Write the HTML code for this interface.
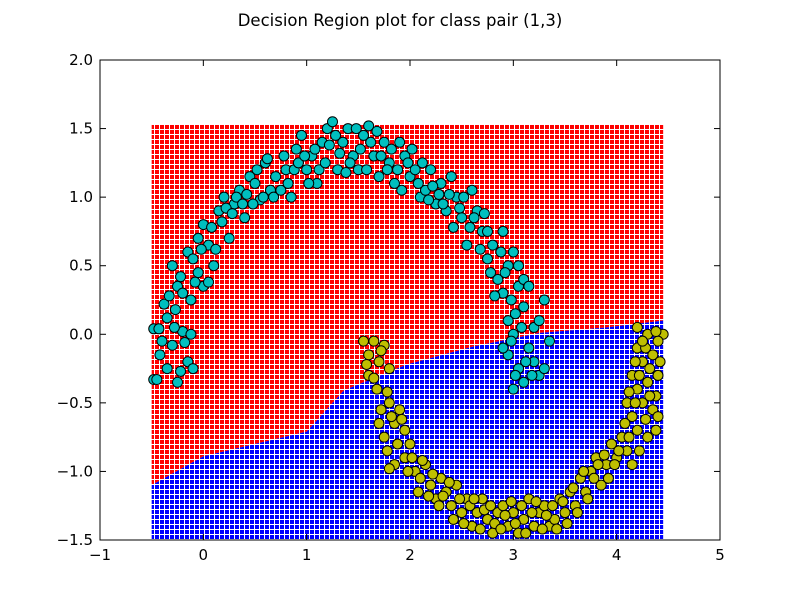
<!DOCTYPE html>
<html><head><meta charset="utf-8"><style>
html,body{margin:0;padding:0;background:#fff;}
svg{display:block;font-family:"DejaVu Sans","Liberation Sans",sans-serif;}
</style></head><body>
<svg id="chart" width="800" height="600">
<defs>
<pattern id="pr" width="5" height="5" patternUnits="userSpaceOnUse"><rect width="5" height="5" fill="#fff"/><rect width="4" height="4" fill="#ff0000"/></pattern>
<pattern id="pb" width="5" height="5" patternUnits="userSpaceOnUse"><rect width="5" height="5" fill="#fff"/><rect width="4" height="4" fill="#0000ff"/></pattern>
</defs>
<text x="400" y="26" text-anchor="middle" font-size="16.5">Decision Region plot for class pair (1,3)</text>
<g id="plot"></g>
</svg>
<script>
const xTicks=[-1,0,1,2,3,4,5];
const yTicks=[-1.5,-1.0,-0.5,0.0,0.5,1.0,1.5,2.0];
const gridX=[-0.5,4.45];
const gridY=[-1.5,1.53];
const boundaryX=[-0.5,0,0.5,1,1.36,1.97,2.61,3.26,3.91,4.45];
const boundaryY=[-1.1,-0.89,-0.8,-0.71,-0.41,-0.22,-0.09,0.01,0.05,0.1];
const cyanPts=[[-0.48,-0.33],[-0.45,-0.33],[-0.48,0.04],[-0.43,0.04],[-0.42,-0.15],[-0.38,0.22],[-0.33,0.28],[-0.35,0.12],[-0.3,-0.08],[-0.27,0.18],[-0.25,-0.35],[-0.22,-0.27],[-0.2,0.02],[-0.18,-0.06],[-0.15,-0.2],[-0.12,0.0],[-0.1,-0.25],[-0.3,0.5],[-0.25,0.35],[-0.2,0.3],[-0.15,0.6],[-0.1,0.55],[-0.05,0.45],[0.0,0.35],[0.05,0.38],[-0.05,0.7],[0.0,0.8],[0.05,0.65],[0.1,0.5],[0.15,0.9],[0.2,1.0],[0.25,0.7],[0.3,0.95],[0.35,1.05],[0.4,0.85],[0.45,1.15],[0.5,1.1],[0.55,0.98],[0.6,1.25],[0.65,1.05],[0.7,1.15],[0.8,1.2],[0.85,1.0],[0.9,1.35],[0.95,1.45],[1.0,1.2],[1.05,1.3],[1.1,1.1],[1.15,1.4],[1.2,1.5],[1.25,1.55],[1.3,1.2],[1.35,1.4],[1.4,1.5],[1.45,1.3],[1.5,1.2],[1.55,1.45],[1.6,1.52],[1.65,1.3],[1.7,1.15],[1.75,1.4],[1.8,1.25],[1.85,1.1],[1.9,1.4],[1.95,1.3],[2.0,1.15],[2.05,1.2],[2.1,1.0],[2.15,1.05],[2.2,1.2],[2.25,0.95],[2.3,1.1],[2.35,0.9],[2.4,1.15],[2.45,1.0],[2.5,0.85],[2.55,0.65],[2.6,1.05],[2.65,0.9],[2.7,0.75],[2.75,0.55],[2.8,0.65],[2.85,0.4],[2.9,0.3],[2.95,0.5],[2.9,0.75],[3.0,0.6],[3.05,0.35],[2.95,0.1],[3.0,0.0],[3.1,0.2],[2.95,-0.15],[3.05,-0.25],[3.15,-0.1],[3.2,0.05],[3.25,-0.3],[3.1,-0.35],[3.0,-0.4],[3.3,0.25],[3.35,-0.05],[2.9,-0.1],[3.2,-0.2],
[-0.4,-0.05],[-0.35,-0.25],[-0.28,0.05],[-0.22,0.42],[-0.12,0.25],[-0.08,0.38],[-0.02,0.62],[0.08,0.78],[0.12,0.62],[0.18,0.82],[0.22,0.92],[0.28,0.88],[0.32,1.0],[0.38,0.95],[0.42,1.02],[0.48,0.95],[0.52,1.2],[0.58,1.0],[0.62,1.28],[0.68,1.0],[0.75,1.05],[0.78,1.3],[0.82,1.1],[0.88,1.2],[0.92,1.25],[0.98,1.3],[1.02,1.1],[1.08,1.35],[1.12,1.2],[1.18,1.25],[1.22,1.38],[1.28,1.45],[1.32,1.32],[1.38,1.18],[1.42,1.25],[1.48,1.5],[1.52,1.35],[1.58,1.2],[1.62,1.4],[1.68,1.48],[1.72,1.3],[1.78,1.2],[1.82,1.35],[1.88,1.2],[1.92,1.05],[1.98,1.25],[2.02,1.35],[2.08,1.1],[2.12,1.25],[2.18,0.98],[2.22,1.08],[2.28,1.02],[2.32,0.95],[2.38,1.02],[2.42,0.78],[2.48,0.92],[2.52,1.0],[2.58,0.78],[2.62,0.85],[2.68,0.62],[2.72,0.88],[2.78,0.45],[2.82,0.28],[2.88,0.6],[2.92,0.45],[2.98,0.25],[3.02,0.15],[3.08,0.05],[3.12,-0.2],[3.02,-0.3],[2.98,-0.05],[3.18,-0.3],[3.1,0.4],[3.15,0.35],[3.05,0.5],[2.75,0.75],[3.25,0.1],[3.3,-0.25]];
const yellowPts=[[1.55,-0.05],[1.6,-0.15],[1.65,-0.05],[1.6,-0.3],[1.7,-0.2],[1.75,-0.08],[1.8,-0.25],[1.68,-0.4],[1.72,-0.55],[1.8,-0.5],[1.85,-0.65],[1.75,-0.75],[1.9,-0.55],[1.95,-0.7],[1.78,-0.85],[1.85,-0.95],[1.95,-0.9],[2.0,-0.8],[2.05,-1.0],[2.1,-1.05],[2.15,-0.95],[2.2,-1.1],[2.25,-1.2],[2.3,-1.05],[2.35,-1.15],[2.4,-1.25],[2.45,-1.1],[2.5,-1.3],[2.55,-1.2],[2.6,-1.4],[2.65,-1.3],[2.7,-1.2],[2.75,-1.35],[2.8,-1.45],[2.85,-1.3],[2.9,-1.25],[2.95,-1.4],[3.0,-1.3],[3.05,-1.45],[3.1,-1.35],[3.15,-1.2],[3.2,-1.4],[3.25,-1.3],[3.3,-1.25],[3.35,-1.4],[3.4,-1.35],[3.45,-1.2],[3.5,-1.3],[3.55,-1.15],[3.6,-1.25],[3.65,-1.05],[3.7,-1.15],[3.75,-1.0],[3.8,-0.9],[3.85,-1.1],[3.9,-0.95],[3.95,-0.8],[4.0,-0.9],[4.05,-0.75],[4.1,-0.85],[4.15,-0.6],[4.2,-0.7],[4.25,-0.5],[4.3,-0.75],[4.35,-0.55],[4.4,-0.6],[4.15,-0.3],[4.2,-0.4],[4.25,-0.2],[4.3,-0.35],[4.35,-0.15],[4.4,-0.3],[4.45,0.0],[4.4,-0.05],[4.2,-0.1],[4.3,0.0],[4.2,0.05],[4.38,-0.45],[4.1,-0.5],[4.15,-0.95],
[1.58,-0.22],[1.65,-0.32],[1.72,-0.12],[1.78,-0.42],[1.82,-0.6],[1.7,-0.65],[1.88,-0.8],[1.8,-0.98],[1.92,-0.62],[1.98,-1.0],[2.02,-0.9],[2.08,-1.15],[2.12,-0.92],[2.18,-1.18],[2.22,-1.02],[2.28,-1.25],[2.32,-1.18],[2.38,-1.08],[2.42,-1.35],[2.48,-1.2],[2.52,-1.38],[2.58,-1.25],[2.62,-1.2],[2.68,-1.42],[2.72,-1.28],[2.78,-1.25],[2.82,-1.38],[2.88,-1.42],[2.92,-1.32],[2.98,-1.22],[3.02,-1.38],[3.08,-1.25],[3.12,-1.45],[3.18,-1.3],[3.22,-1.22],[3.28,-1.42],[3.32,-1.32],[3.38,-1.25],[3.42,-1.42],[3.48,-1.22],[3.52,-1.38],[3.58,-1.12],[3.62,-1.3],[3.68,-1.0],[3.72,-1.2],[3.78,-1.05],[3.82,-0.95],[3.88,-0.88],[3.92,-1.05],[3.98,-0.95],[4.02,-0.85],[4.08,-0.65],[4.12,-0.75],[4.18,-0.5],[4.22,-0.85],[4.28,-0.62],[4.32,-0.45],[4.38,-0.7],[4.42,-0.2],[4.28,-0.1],[4.18,-0.2],[4.32,-0.25],[4.22,-0.3],[4.38,0.02],[4.25,-0.05],[4.12,-0.42]];

const L=100,R=720,T=60,B=540;
const sx=v=>L+(v-(-1))/6*(R-L);
const sy=v=>B-(v-(-1.5))/3.5*(B-T);
const NS='http://www.w3.org/2000/svg';
const g=document.getElementById('plot');
function mk(t,a){const e=document.createElementNS(NS,t);for(const k in a)e.setAttribute(k,a[k]);g.appendChild(e);return e;}

let dR='M'+sx(gridX[0])+','+sy(gridY[1])+' L'+sx(gridX[1])+','+sy(gridY[1]);
for(let i=boundaryX.length-1;i>=0;i--)dR+=' L'+sx(boundaryX[i])+','+sy(boundaryY[i]);
dR+='Z';
const red=mk('path',{d:dR,fill:'url(#pr)'});


let dB='M'+sx(gridX[0])+','+sy(gridY[0])+' L'+sx(gridX[1])+','+sy(gridY[0]);
for(let i=boundaryX.length-1;i>=0;i--)dB+=' L'+sx(boundaryX[i])+','+sy(boundaryY[i]);
dB+='Z';
const blue=mk('path',{d:dB,fill:'url(#pb)'});



cyanPts.forEach(p=>{const c=mk('circle',{cx:sx(p[0]),cy:sy(p[1]),r:5,fill:'#00bfbf',stroke:'#000','stroke-width':1});

});
yellowPts.forEach(p=>{const c=mk('circle',{cx:sx(p[0]),cy:sy(p[1]),r:5,fill:'#bfbf00',stroke:'#000','stroke-width':1});

});

const frame=mk('rect',{x:L,y:T,width:R-L,height:B-T,fill:'none',stroke:'#000','stroke-width':1});



xTicks.forEach(v=>{const x=sx(v);
mk('line',{x1:x,x2:x,y1:B,y2:B-6,stroke:'#000'});mk('line',{x1:x,x2:x,y1:T,y2:T+6,stroke:'#000'});
const t=mk('text',{x:x,y:B+20,'text-anchor':'middle','font-size':15});t.textContent=(v<0?'\u2212':'')+Math.abs(v);

});
yTicks.forEach(v=>{const y=sy(v);
mk('line',{x1:L,x2:L+6,y1:y,y2:y,stroke:'#000'});mk('line',{x1:R,x2:R-6,y1:y,y2:y,stroke:'#000'});
const t=mk('text',{x:L-7,y:y+5,'text-anchor':'end','font-size':15});t.textContent=(v<0?'\u2212':'')+Math.abs(v).toFixed(1);

});
</script>
</body></html>
